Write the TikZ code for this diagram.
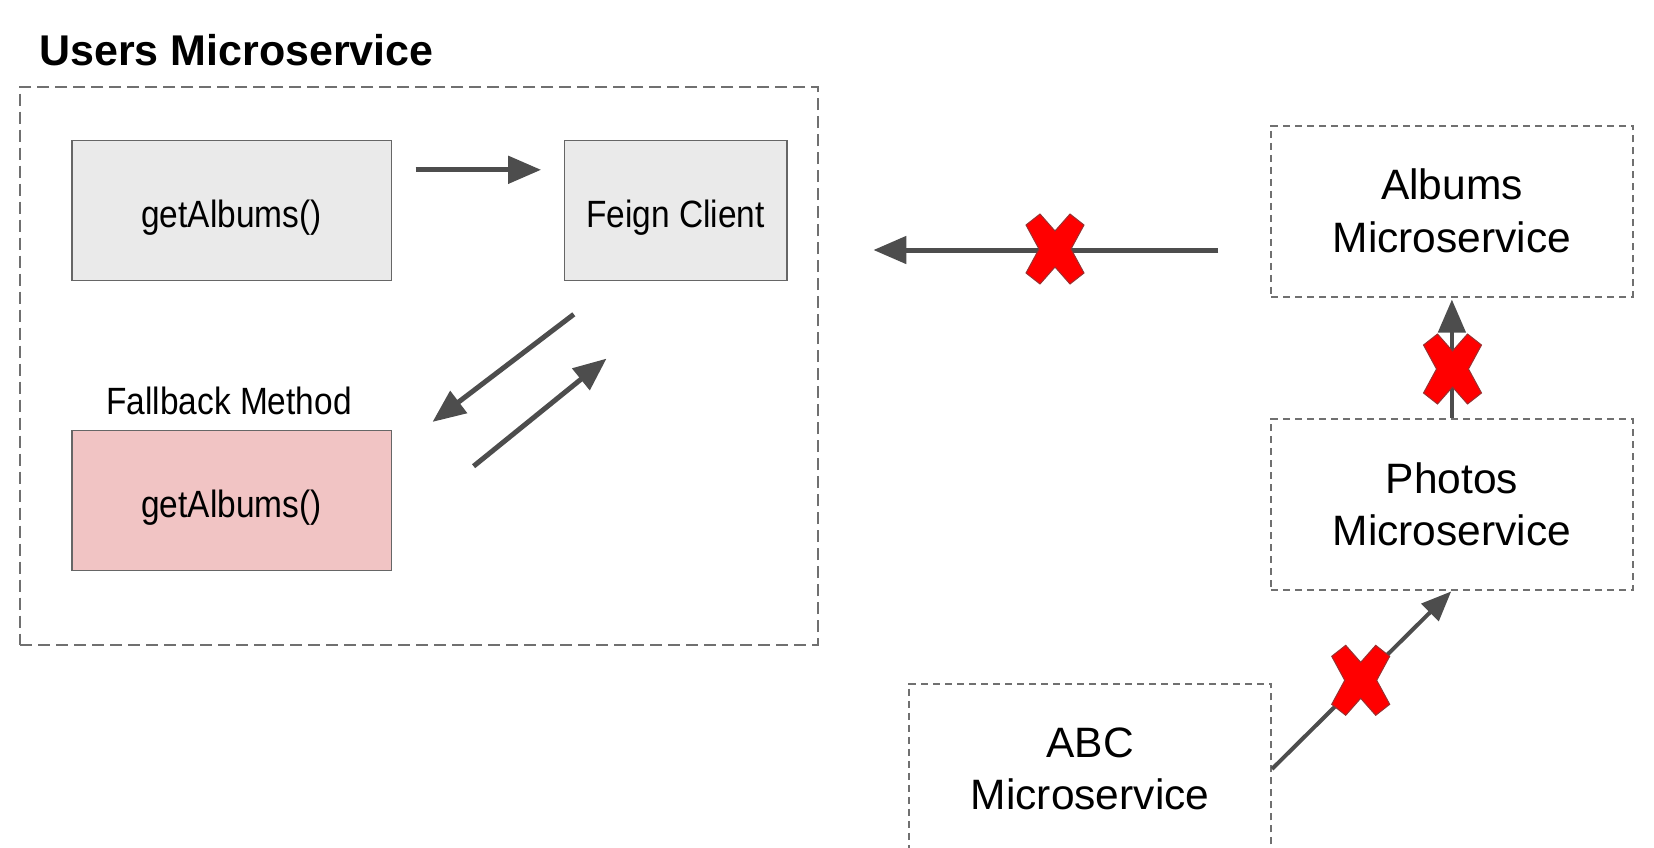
\documentclass[tikz,border=0pt]{standalone}
\usepackage{fontspec}
\setmainfont{Liberation Sans}
\newfontfamily\bodyfont[FakeStretch=0.88]{Liberation Sans}
\usetikzlibrary{arrows.meta,calc}
\definecolor{arrowgray}{HTML}{4D4D4D}
\definecolor{dashgray}{HTML}{707070}
\definecolor{edgegray}{HTML}{666666}
\definecolor{boxfill}{HTML}{EAEAEA}
\definecolor{pinkfill}{HTML}{F1C4C4}
\definecolor{xred}{HTML}{FF0000}
\definecolor{xedge}{HTML}{9A3030}
\tikzset{
  methodbox/.style={draw=edgegray, line width=1.6pt, fill=boxfill, inner sep=0pt,
    font=\bodyfont\fontsize{38}{46}\selectfont, text height=33pt, text depth=0pt},
  outerdash/.style={draw=dashgray, line width=2pt, dash pattern=on 12pt off 6pt},
  svcbox/.style={draw=dashgray, line width=2pt, dash pattern=on 7pt off 5pt, inner sep=0pt,
    minimum width=361.8pt, minimum height=171pt, align=center,
    font=\fontsize{42.5}{52.7}\selectfont},
  flow/.style={draw=arrowgray, line width=5pt, -{Triangle[length=33pt,width=27pt]}},
  thinflow/.style={draw=arrowgray, line width=4pt, -{Triangle[length=30pt,width=24pt]}},
  redx/.pic={
    \filldraw[fill=xred, draw=xedge, line width=1pt, line join=miter]
      (-15,-35) -- (0,-18) -- (15,-35) -- (29,-24) -- (16,0) --
      (29,24) -- (15,35) -- (0,18) -- (-15,35) -- (-29,24) --
      (-16,0) -- (-29,-24) -- cycle;
  }
}
\begin{document}
\begin{tikzpicture}[x=1pt,y=-1pt]
\useasboundingbox (0,0) rectangle (1654,847);
\clip (0,0) rectangle (1654,847);
\fill[white] (0,0) rectangle (1654,847);

% Users microservice container
\node[anchor=base west, font=\bfseries\fontsize{43}{50}\selectfont, inner sep=0pt] (title) at (39,65.4) {Users Microservice};
\node[outerdash, inner sep=0pt, minimum width=797.5pt, minimum height=558pt] (users) at (418.75,365.5) {};

\node[methodbox, minimum width=319.6pt, minimum height=140.3pt] (get) at (231.5,210.5) {getAlbums()};
\node[methodbox, minimum width=222.6pt, minimum height=140.3pt] (feign) at (675.6,210.5) {Feign Client};
\node[methodbox, fill=pinkfill, minimum width=319.6pt, minimum height=140.2pt] (fb) at (231.5,500.5) {getAlbums()};
\node[anchor=base, inner sep=0pt, font=\bodyfont\fontsize{38}{46}\selectfont] (fblabel) at (229,414.5) {Fallback Method};

% arrows inside
\coordinate (a1s) at (415.6,169.8);
\coordinate (a1e) at (541.1,169.8);
\draw[flow] (a1s) -- (a1e);
\coordinate (a2s) at (573.8,314.3);
\coordinate (a2e) at (432.5,421.9);
\draw[flow] (a2s) -- (a2e);
\coordinate (a3s) at (473.6,466.2);
\coordinate (a3e) at (606.5,358.6);
\draw[flow] (a3s) -- (a3e);

% services
\node[svcbox] (albums) at (1451.9,211) {Albums\\Microservice};
\node[svcbox] (photos) at (1451.9,504.2) {Photos\\Microservice};
\node[svcbox] (abc) at (1090.1,769) {ABC\\Microservice};

% broken connections
\coordinate (hs) at (1218.3,250);
\coordinate (he) at (873.4,250);
\draw[flow] (hs) -- (he);
\pic at (1055,249) {redx};

\draw[flow, line width=4.5pt, shorten >=2pt] (photos.north) -- (albums.south);
\pic at (1452.5,369) {redx};

\draw[thinflow, shorten >=1pt] (abc.east) -- (photos.south);
\pic at (1360.7,680.3) {redx};
\end{tikzpicture}
\end{document}
